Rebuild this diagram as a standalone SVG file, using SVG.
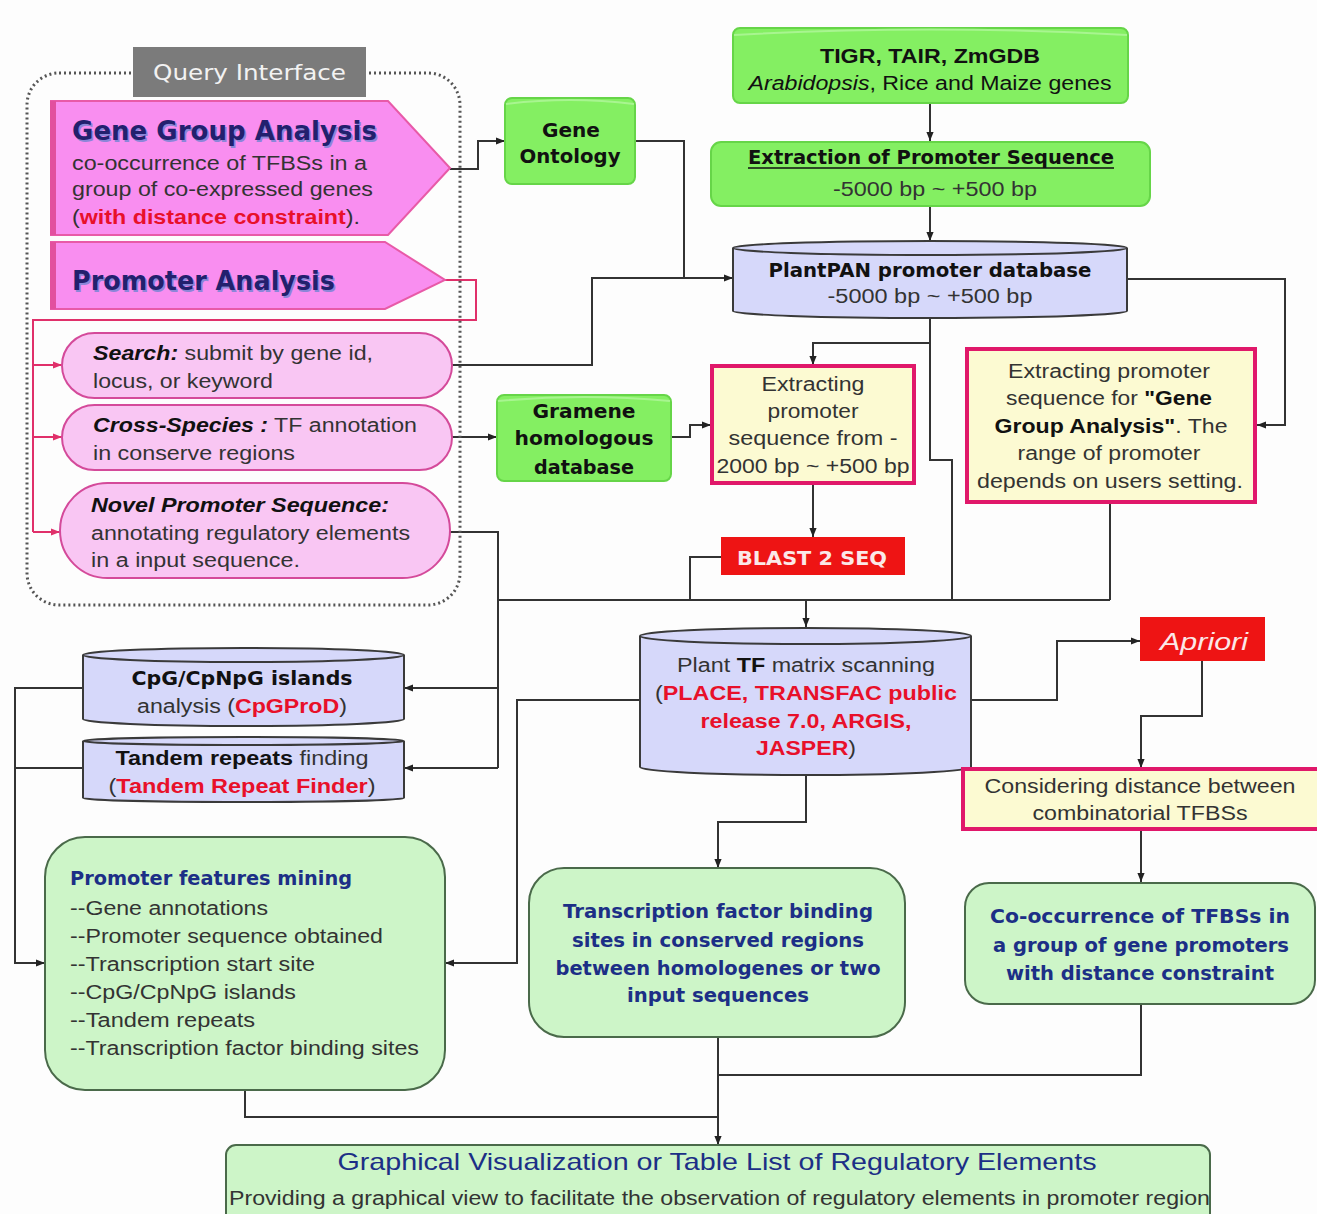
<svg xmlns="http://www.w3.org/2000/svg" width="1317" height="1214" viewBox="0 0 1317 1214">
<defs>
<style>
.t{font-family:"Liberation Sans",Arial,sans-serif;font-size:20px;fill:#333}
.v{font-family:"DejaVu Sans",Verdana,sans-serif;font-weight:bold;font-size:19px;fill:#111}
.nv{font-family:"DejaVu Sans",Verdana,sans-serif;font-weight:bold;font-size:19px;fill:#1c2f86}
.b{font-weight:bold}
.r{fill:#e8102a;font-weight:bold}
.i{font-style:italic}
.k{fill:#111}
.con{fill:none;stroke:#333;stroke-width:2}
.pk{fill:none;stroke:#e0306a;stroke-width:2}
.gr{fill:#84ef62;stroke:#66d548;stroke-width:2}
.lv{fill:#d6d8fa;stroke:#3a3a3a;stroke-width:2}
.yl{fill:#fcfad2;stroke:#e0186a;stroke-width:4}
.lg{fill:#cdf5c8;stroke:#4a6a4a;stroke-width:2}
.el{fill:#f9c6f3;stroke:#d44a9a;stroke-width:2}
.pent{fill:#f98ef0;stroke:#e85aa8;stroke-width:2}
.red{fill:#ee1414}
.ttl{font-family:"DejaVu Sans",Verdana,sans-serif;font-weight:bold;font-size:26px}
</style>
<marker id="ar" viewBox="0 0 10 10" refX="10" refY="5" markerWidth="9" markerHeight="9" markerUnits="userSpaceOnUse" orient="auto"><path d="M0,1 L10,5 L0,9 z" fill="#222"/></marker>
<marker id="ap" viewBox="0 0 10 10" refX="10" refY="5" markerWidth="9" markerHeight="9" markerUnits="userSpaceOnUse" orient="auto"><path d="M0,1 L10,5 L0,9 z" fill="#e0306a"/></marker>
</defs>
<rect width="1317" height="1214" fill="#fdfdfd"/>

<g id="connectors">
<path class="con" d="M450,169 H478 V141 H505" marker-end="url(#ar)"/>
<path class="con" d="M635,141 H684 V278"/>
<path class="con" d="M452,365 H592 V278 H733" marker-end="url(#ar)"/>
<path class="con" d="M930,103 V141" marker-end="url(#ar)"/>
<path class="con" d="M930,206 V241" marker-end="url(#ar)"/>
<path class="con" d="M1127,279 H1285 V425 H1257" marker-end="url(#ar)"/>
<path class="con" d="M930,318 V343 H813 V365" marker-end="url(#ar)"/>
<path class="con" d="M930,343 V460 H952 V600"/>
<path class="con" d="M452,437 H497" marker-end="url(#ar)"/>
<path class="con" d="M671,437 H690 V425 H711" marker-end="url(#ar)"/>
<path class="con" d="M813,484 V537" marker-end="url(#ar)"/>
<path class="con" d="M721,557 H690 V600"/>
<path class="con" d="M1110,503 V600"/>
<path class="con" d="M498,600 H1110"/>
<path class="con" d="M806,600 V627" marker-end="url(#ar)"/>
<path class="con" d="M450,532 H498 V768"/>
<path class="con" d="M498,688 H404" marker-end="url(#ar)"/>
<path class="con" d="M498,768 H404" marker-end="url(#ar)"/>
<path class="con" d="M83,688 H15 V963 H45" marker-end="url(#ar)"/>
<path class="con" d="M83,768 H15"/>
<path class="con" d="M640,700 H517 V963 H445" marker-end="url(#ar)"/>
<path class="con" d="M806,775 V822 H718 V868" marker-end="url(#ar)"/>
<path class="con" d="M971,700 H1057 V641 H1140" marker-end="url(#ar)"/>
<path class="con" d="M1202,661 V716 H1141 V768" marker-end="url(#ar)"/>
<path class="con" d="M1141,829 V882" marker-end="url(#ar)"/>
<path class="con" d="M1141,1004 V1075 H718"/>
<path class="con" d="M718,1037 V1145" marker-end="url(#ar)"/>
<path class="con" d="M245,1090 V1117 H718"/>
<path class="pk" d="M445,280 H476 V320 H33 V532"/>
<path class="pk" d="M33,365 H62" marker-end="url(#ap)"/>
<path class="pk" d="M33,437 H62" marker-end="url(#ap)"/>
<path class="pk" d="M33,532 H60" marker-end="url(#ap)"/>
</g>

<g id="query-interface">
<rect x="27" y="73" width="433" height="532" rx="32" fill="none" stroke="#555" stroke-width="3" stroke-dasharray="2 3"/>
<rect x="133" y="47" width="233" height="50" fill="#7b7b7b"/>
<text x="153" y="80" textLength="193" lengthAdjust="spacingAndGlyphs" style="font-family:'DejaVu Sans',Verdana,sans-serif;font-size:22px;fill:#f2f2f2">Query Interface</text>
</g>

<g id="gene-group-analysis">
<path class="pent" d="M51,101 H388 L450,168 L388,235 H51 Z"/>
<rect x="50" y="101" width="6" height="134" fill="#e2509f"/>
<text class="ttl" x="73.5" y="141.5" textLength="305" lengthAdjust="spacingAndGlyphs" fill="#8c86d8">Gene Group Analysis</text>
<text class="ttl" x="72" y="140" textLength="305" lengthAdjust="spacingAndGlyphs" fill="#23206e">Gene Group Analysis</text>
<text class="t" x="72" y="170" textLength="295" lengthAdjust="spacingAndGlyphs">co-occurrence of TFBSs in a</text>
<text class="t" x="72" y="196" textLength="301" lengthAdjust="spacingAndGlyphs">group of co-expressed genes</text>
<text class="t" x="72" y="224" textLength="288" lengthAdjust="spacingAndGlyphs">(<tspan class="r">with distance constraint</tspan>).</text>
</g>

<g id="promoter-analysis">
<path class="pent" d="M51,242 H385 L445,280 L385,309 H51 Z"/>
<rect x="50" y="242" width="6" height="67" fill="#e2509f"/>
<text class="ttl" x="73.5" y="291.5" textLength="263" lengthAdjust="spacingAndGlyphs" fill="#8c86d8">Promoter Analysis</text>
<text class="ttl" x="72" y="290" textLength="263" lengthAdjust="spacingAndGlyphs" fill="#23206e">Promoter Analysis</text>
</g>

<g id="search">
<rect class="el" x="62" y="333" width="390" height="65" rx="32.5"/>
<text class="t" x="93" y="360" textLength="280" lengthAdjust="spacingAndGlyphs"><tspan class="b i k">Search:</tspan> submit by gene id,</text>
<text class="t" x="93" y="388" textLength="180" lengthAdjust="spacingAndGlyphs">locus, or keyword</text>
</g>

<g id="cross-species">
<rect class="el" x="62" y="405" width="390" height="65" rx="32.5"/>
<text class="t" x="93" y="432" textLength="324" lengthAdjust="spacingAndGlyphs"><tspan class="b i k">Cross-Species :</tspan> TF annotation</text>
<text class="t" x="93" y="460" textLength="202" lengthAdjust="spacingAndGlyphs">in conserve regions</text>
</g>

<g id="novel-promoter">
<rect class="el" x="60" y="483" width="390" height="95" rx="47.5"/>
<text class="t b i k" x="91" y="512" textLength="298" lengthAdjust="spacingAndGlyphs">Novel Promoter Sequence:</text>
<text class="t" x="91" y="540" textLength="319" lengthAdjust="spacingAndGlyphs">annotating regulatory elements</text>
<text class="t" x="91" y="567" textLength="209" lengthAdjust="spacingAndGlyphs">in a input sequence.</text>
</g>

<g id="gene-ontology">
<rect class="gr" x="505" y="98" width="130" height="86" rx="7"/>
<path d="M506,104 Q570,96 634,104" fill="none" stroke="#a8f590" stroke-width="2"/>
<text class="v" x="571" y="137" text-anchor="middle" textLength="58" lengthAdjust="spacingAndGlyphs">Gene</text>
<text class="v" x="570" y="163" text-anchor="middle" textLength="101" lengthAdjust="spacingAndGlyphs">Ontology</text>
</g>

<g id="tigr">
<rect class="gr" x="733" y="28" width="395" height="75" rx="7"/>
<path d="M734,35 Q930,24 1127,35" fill="none" stroke="#a8f590" stroke-width="2"/>
<text class="t b k" x="930" y="63" text-anchor="middle" textLength="220" lengthAdjust="spacingAndGlyphs">TIGR, TAIR, ZmGDB</text>
<text class="t k" x="930" y="90" text-anchor="middle" textLength="363" lengthAdjust="spacingAndGlyphs"><tspan class="i">Arabidopsis</tspan>, Rice and Maize genes</text>
</g>

<g id="extraction">
<rect class="gr" x="711" y="142" width="439" height="64" rx="10"/>
<text class="v" x="931" y="164" text-anchor="middle" textLength="366" lengthAdjust="spacingAndGlyphs">Extraction of Promoter Sequence</text>
<line x1="748" y1="168" x2="1114" y2="168" stroke="#111" stroke-width="1.5"/>
<text class="t" x="935" y="196" text-anchor="middle" textLength="204" lengthAdjust="spacingAndGlyphs">-5000 bp ~ +500 bp</text>
</g>

<g id="plantpan">
<path class="lv" d="M733,248 A197,7 0 0 1 1127,248 V311 A197,7 0 0 1 733,311 Z"/>
<path d="M733,248 A197,7 0 0 0 1127,248" fill="none" stroke="#3a3a3a" stroke-width="2"/>
<text class="v" x="930" y="277" text-anchor="middle" textLength="323" lengthAdjust="spacingAndGlyphs">PlantPAN promoter database</text>
<text class="t" x="930" y="303" text-anchor="middle" textLength="205" lengthAdjust="spacingAndGlyphs">-5000 bp ~ +500 bp</text>
</g>

<g id="gramene">
<rect class="gr" x="497" y="395" width="174" height="86" rx="7"/>
<path d="M498,401 Q584,393 670,401" fill="none" stroke="#a8f590" stroke-width="2"/>
<text class="v" x="584" y="418" text-anchor="middle" textLength="103" lengthAdjust="spacingAndGlyphs">Gramene</text>
<text class="v" x="584" y="445" text-anchor="middle" textLength="139" lengthAdjust="spacingAndGlyphs">homologous</text>
<text class="v" x="584" y="474" text-anchor="middle" textLength="100" lengthAdjust="spacingAndGlyphs">database</text>
</g>

<g id="extracting-2000">
<rect class="yl" x="712" y="366" width="202" height="117"/>
<text class="t" x="813" y="391" text-anchor="middle" textLength="103" lengthAdjust="spacingAndGlyphs">Extracting</text>
<text class="t" x="813" y="418" text-anchor="middle" textLength="91" lengthAdjust="spacingAndGlyphs">promoter</text>
<text class="t" x="813" y="445" text-anchor="middle" textLength="169" lengthAdjust="spacingAndGlyphs">sequence from -</text>
<text class="t" x="813" y="473" text-anchor="middle" textLength="193" lengthAdjust="spacingAndGlyphs">2000 bp ~ +500 bp</text>
</g>

<g id="blast">
<rect class="red" x="721" y="537" width="184" height="38"/>
<text class="v" x="812" y="565" text-anchor="middle" textLength="150" lengthAdjust="spacingAndGlyphs" style="fill:#fbe8e8">BLAST 2 SEQ</text>
</g>

<g id="extracting-group">
<rect class="yl" x="967" y="349" width="288" height="153"/>
<text class="t" x="1109" y="378" text-anchor="middle" textLength="202" lengthAdjust="spacingAndGlyphs">Extracting promoter</text>
<text class="t" x="1109" y="405" text-anchor="middle" textLength="206" lengthAdjust="spacingAndGlyphs">sequence for <tspan class="b k">"Gene</tspan></text>
<text class="t" x="1111" y="433" text-anchor="middle" textLength="233" lengthAdjust="spacingAndGlyphs"><tspan class="b k">Group Analysis"</tspan>. The</text>
<text class="t" x="1109" y="460" text-anchor="middle" textLength="183" lengthAdjust="spacingAndGlyphs">range of promoter</text>
<text class="t" x="1110" y="488" text-anchor="middle" textLength="266" lengthAdjust="spacingAndGlyphs">depends on users setting.</text>
</g>

<g id="tf-matrix">
<path class="lv" d="M640,636 A165.5,8 0 0 1 971,636 V767 A165.5,8 0 0 1 640,767 Z"/>
<path d="M640,636 A165.5,8 0 0 0 971,636" fill="none" stroke="#3a3a3a" stroke-width="2"/>
<text class="t" x="806" y="672" text-anchor="middle" textLength="258" lengthAdjust="spacingAndGlyphs">Plant <tspan class="b k">TF</tspan> matrix scanning</text>
<text class="t" x="806" y="700" text-anchor="middle" textLength="302" lengthAdjust="spacingAndGlyphs">(<tspan class="r">PLACE, TRANSFAC public</tspan></text>
<text class="t r" x="806" y="728" text-anchor="middle" textLength="211" lengthAdjust="spacingAndGlyphs">release 7.0, ARGIS,</text>
<text class="t" x="806" y="755" text-anchor="middle" textLength="100" lengthAdjust="spacingAndGlyphs"><tspan class="r">JASPER</tspan>)</text>
</g>

<g id="apriori">
<rect class="red" x="1140" y="617" width="125" height="44"/>
<text class="t i" x="1204" y="650" text-anchor="middle" textLength="88" lengthAdjust="spacingAndGlyphs" style="font-size:24px;fill:#fbe8e8">Apriori</text>
</g>

<g id="considering">
<rect class="yl" x="963" y="769" width="360" height="60"/>
<text class="t" x="1140" y="793" text-anchor="middle" textLength="311" lengthAdjust="spacingAndGlyphs">Considering distance between</text>
<text class="t" x="1140" y="820" text-anchor="middle" textLength="215" lengthAdjust="spacingAndGlyphs">combinatorial TFBSs</text>
</g>

<g id="co-occurrence">
<rect class="lg" x="965" y="883" width="350" height="121" rx="24"/>
<text class="nv" x="1140" y="923" text-anchor="middle" textLength="300" lengthAdjust="spacingAndGlyphs">Co-occurrence of TFBSs in</text>
<text class="nv" x="1141" y="952" text-anchor="middle" textLength="296" lengthAdjust="spacingAndGlyphs">a group of gene promoters</text>
<text class="nv" x="1140" y="980" text-anchor="middle" textLength="268" lengthAdjust="spacingAndGlyphs">with distance constraint</text>
</g>

<g id="cpg">
<path class="lv" d="M83,655 A160.5,7 0 0 1 404,655 V719 A160.5,7 0 0 1 83,719 Z"/>
<path d="M83,655 A160.5,7 0 0 0 404,655" fill="none" stroke="#3a3a3a" stroke-width="2"/>
<text class="v" x="242" y="685" text-anchor="middle" textLength="221" lengthAdjust="spacingAndGlyphs">CpG/CpNpG islands</text>
<text class="t" x="242" y="713" text-anchor="middle" textLength="210" lengthAdjust="spacingAndGlyphs">analysis (<tspan class="r">CpGProD</tspan>)</text>
</g>

<g id="tandem">
<path class="lv" d="M83,741 A160.5,4 0 0 1 404,741 V798 A160.5,4 0 0 1 83,798 Z"/>
<path d="M83,741 A160.5,4 0 0 0 404,741" fill="none" stroke="#3a3a3a" stroke-width="2"/>
<text class="t" x="242" y="765" text-anchor="middle" textLength="253" lengthAdjust="spacingAndGlyphs"><tspan class="b k">Tandem repeats</tspan> finding</text>
<text class="t" x="242" y="793" text-anchor="middle" textLength="267" lengthAdjust="spacingAndGlyphs">(<tspan class="r">Tandem Repeat Finder</tspan>)</text>
</g>

<g id="promoter-features">
<rect class="lg" x="45" y="837" width="400" height="253" rx="40"/>
<text class="nv" x="70" y="885" textLength="282" lengthAdjust="spacingAndGlyphs">Promoter features mining</text>
<text class="t" x="70" y="915" textLength="198" lengthAdjust="spacingAndGlyphs">--Gene annotations</text>
<text class="t" x="70" y="943" textLength="313" lengthAdjust="spacingAndGlyphs">--Promoter sequence obtained</text>
<text class="t" x="70" y="971" textLength="245" lengthAdjust="spacingAndGlyphs">--Transcription start site</text>
<text class="t" x="70" y="999" textLength="226" lengthAdjust="spacingAndGlyphs">--CpG/CpNpG islands</text>
<text class="t" x="70" y="1027" textLength="185" lengthAdjust="spacingAndGlyphs">--Tandem repeats</text>
<text class="t" x="70" y="1055" textLength="349" lengthAdjust="spacingAndGlyphs">--Transcription factor binding sites</text>
</g>

<g id="tf-binding">
<rect class="lg" x="529" y="868" width="376" height="169" rx="35"/>
<text class="nv" x="718" y="918" text-anchor="middle" textLength="310" lengthAdjust="spacingAndGlyphs">Transcription factor binding</text>
<text class="nv" x="718" y="947" text-anchor="middle" textLength="292" lengthAdjust="spacingAndGlyphs">sites in conserved regions</text>
<text class="nv" x="718" y="975" text-anchor="middle" textLength="325" lengthAdjust="spacingAndGlyphs">between homologenes or two</text>
<text class="nv" x="718" y="1002" text-anchor="middle" textLength="182" lengthAdjust="spacingAndGlyphs">input sequences</text>
</g>

<g id="graphical">
<rect class="lg" x="226" y="1145" width="984" height="80" rx="10"/>
<text class="t" x="717" y="1170" text-anchor="middle" textLength="759" lengthAdjust="spacingAndGlyphs" style="font-size:24px;fill:#1c2f86">Graphical Visualization or Table List of Regulatory Elements</text>
<text class="t" x="229" y="1205" textLength="981" lengthAdjust="spacingAndGlyphs">Providing a graphical view to facilitate the observation of regulatory elements in promoter region</text>
</g>
</svg>
